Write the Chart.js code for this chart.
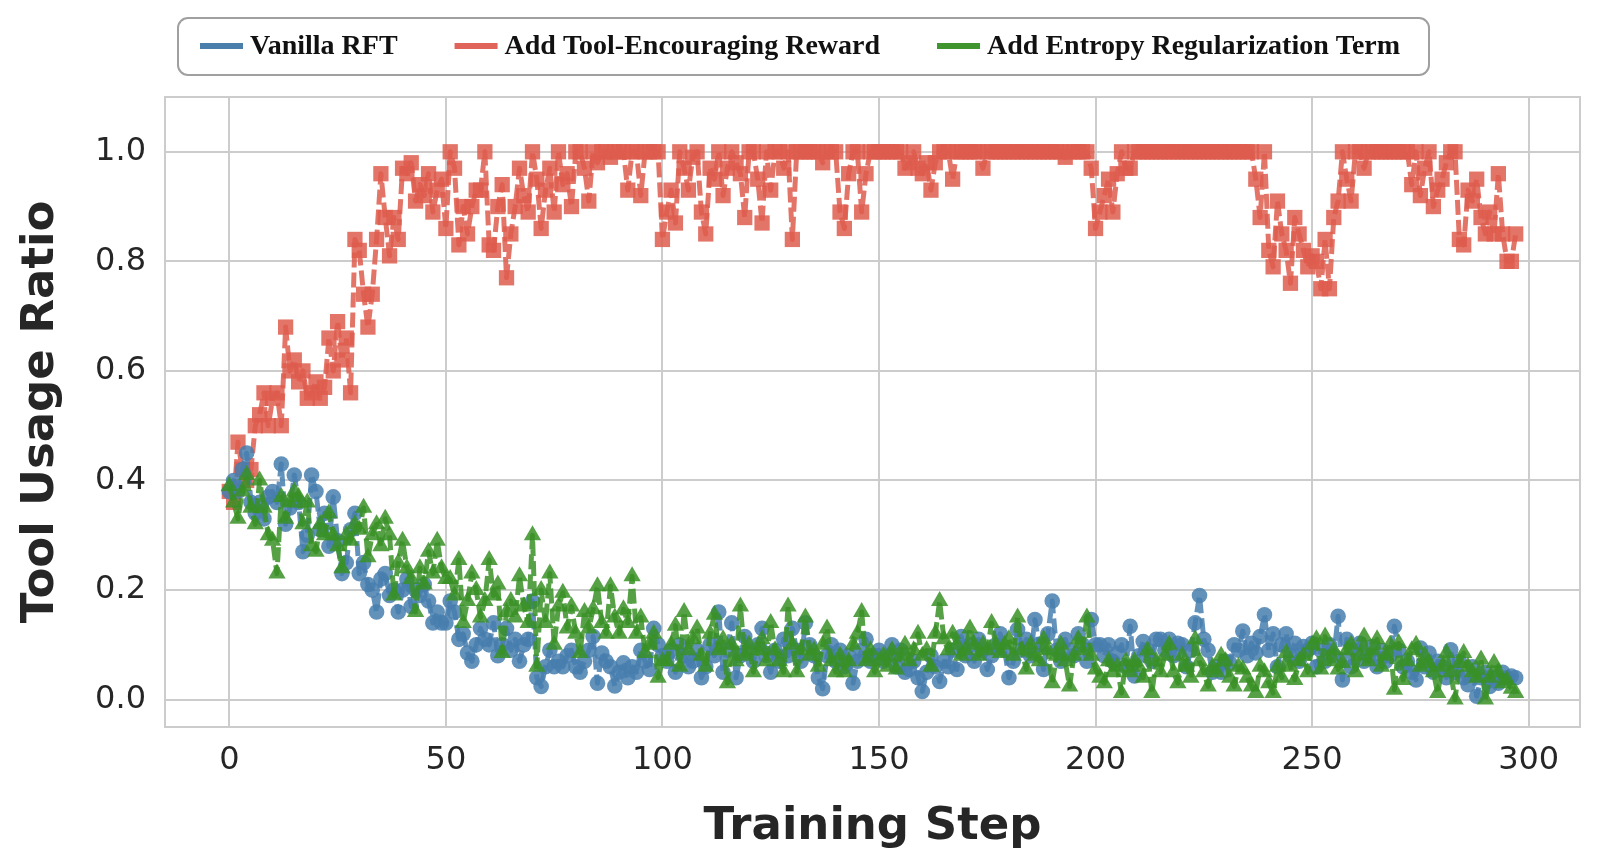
<!DOCTYPE html>
<html>
<head>
<meta charset="utf-8">
<script src="https://cdn.jsdelivr.net/npm/chart.js@4.4.1/dist/chart.umd.min.js"></script>
<style>
  html, body { margin: 0; padding: 0; background: #ffffff; }
  canvas { display: block; }
</style>
</head>
<body>
<canvas id="myChart" width="1600" height="862"></canvas>
<script>
// tool usage ratio per training step
const vanillaRft = [
  0.38, 0.40, 0.38, 0.42, 0.45, 0.36, 0.34, 0.36, 0.33, 0.37,
  0.38, 0.36, 0.43, 0.32, 0.35, 0.41, 0.36, 0.27, 0.30, 0.41,
  0.38, 0.31, 0.34, 0.28, 0.37, 0.29, 0.23, 0.25, 0.31, 0.34,
  0.23, 0.25, 0.21, 0.20, 0.16, 0.22, 0.23, 0.19, 0.20, 0.16,
  0.20, 0.22, 0.17, 0.20, 0.19, 0.21, 0.18, 0.14, 0.16, 0.14,
  0.14, 0.18, 0.16, 0.11, 0.12, 0.085, 0.07, 0.10, 0.13, 0.11,
  0.10, 0.14, 0.08, 0.10, 0.13, 0.09, 0.11, 0.07, 0.10, 0.11,
  0.18, 0.04, 0.024, 0.06, 0.09, 0.06, 0.07, 0.06, 0.08, 0.09,
  0.06, 0.05, 0.07, 0.09, 0.115, 0.03, 0.085, 0.07, 0.06, 0.025,
  0.05, 0.067, 0.04, 0.06, 0.05, 0.09, 0.07, 0.055, 0.13, 0.10,
  0.08, 0.07, 0.09, 0.05, 0.10, 0.08, 0.06, 0.07, 0.09, 0.04,
  0.06, 0.10, 0.08, 0.16, 0.05, 0.09, 0.14, 0.04, 0.08, 0.115,
  0.09, 0.07, 0.10, 0.13, 0.08, 0.05, 0.09, 0.07, 0.11, 0.08,
  0.13, 0.09, 0.07, 0.14, 0.10, 0.08, 0.04, 0.02, 0.08, 0.10,
  0.07, 0.09, 0.06, 0.08, 0.03, 0.07, 0.09, 0.11, 0.07, 0.08,
  0.09, 0.07, 0.08, 0.10, 0.06, 0.09, 0.05, 0.055, 0.07, 0.04,
  0.015, 0.05, 0.08, 0.06, 0.033, 0.07, 0.06, 0.09, 0.055, 0.115,
  0.08, 0.10, 0.07, 0.11, 0.09, 0.055, 0.08, 0.10, 0.12, 0.09,
  0.04, 0.07, 0.128, 0.09, 0.11, 0.08, 0.146, 0.10, 0.055, 0.12,
  0.18, 0.09, 0.07, 0.11, 0.09, 0.08, 0.12, 0.10, 0.07, 0.146,
  0.10, 0.10, 0.08, 0.10, 0.07, 0.085, 0.10, 0.06, 0.134, 0.043,
  0.08, 0.106, 0.09, 0.07, 0.11, 0.11, 0.09, 0.11, 0.08, 0.103,
  0.10, 0.06, 0.09, 0.14, 0.19, 0.11, 0.09, 0.05, 0.06, 0.05,
  0.07, 0.067, 0.10, 0.09, 0.125, 0.08, 0.103, 0.085, 0.115, 0.155,
  0.09, 0.12, 0.06, 0.10, 0.12, 0.08, 0.103, 0.07, 0.097, 0.09,
  0.103, 0.06, 0.09, 0.07, 0.10, 0.08, 0.152, 0.036, 0.11, 0.06,
  0.09, 0.103, 0.07, 0.08, 0.097, 0.06, 0.09, 0.07, 0.08, 0.134,
  0.09, 0.06, 0.07, 0.05, 0.036, 0.094, 0.06, 0.085, 0.05, 0.07,
  0.06, 0.04, 0.091, 0.05, 0.07, 0.04, 0.027, 0.06, 0.006, 0.04,
  0.05, 0.024, 0.04, 0.03, 0.05, 0.04, 0.043, 0.04
];

const toolReward = [
  0.38, 0.36, 0.47, 0.42, 0.40, 0.42, 0.50, 0.52, 0.56, 0.50,
  0.55, 0.56, 0.50, 0.68, 0.60, 0.62, 0.58, 0.60, 0.55, 0.56,
  0.58, 0.55, 0.57, 0.66, 0.60, 0.69, 0.62, 0.66, 0.56, 0.84,
  0.82, 0.74, 0.68, 0.74, 0.84, 0.96, 0.88, 0.81, 0.88, 0.84,
  0.97, 0.96, 0.98, 0.91, 0.94, 0.92, 0.96, 0.89, 0.93, 0.95,
  0.86, 1.0, 0.97, 0.83, 0.90, 0.85, 0.90, 0.93, 0.93, 1.0,
  0.83, 0.82, 0.90, 0.94, 0.77, 0.85, 0.90, 0.97, 0.92, 0.89,
  1.0, 0.95, 0.86, 0.93, 0.97, 0.89, 1.0, 0.94, 0.96, 0.90,
  1.0, 1.0, 0.97, 0.91, 1.0, 0.98, 1.0, 1.0, 0.99, 1.0,
  1.0, 1.0, 0.93, 1.0, 1.0, 0.92, 1.0, 1.0, 1.0, 1.0,
  0.84, 0.89, 0.93, 0.87, 1.0, 0.97, 0.93, 0.99, 1.0, 0.89,
  0.85, 0.97, 0.95, 1.0, 0.92, 0.97, 1.0, 0.98, 0.96, 0.88,
  1.0, 1.0, 0.95, 0.87, 1.0, 0.93, 1.0, 1.0, 0.97, 1.0,
  0.84, 1.0, 1.0, 1.0, 1.0, 1.0, 1.0, 0.98, 1.0, 1.0,
  1.0, 0.89, 0.86, 0.96, 1.0, 1.0, 0.89, 0.96, 1.0, 1.0,
  1.0, 1.0, 1.0, 1.0, 1.0, 1.0, 0.97, 0.98, 1.0, 0.97,
  0.96, 0.98, 0.93, 0.98, 1.0, 1.0, 1.0, 0.95, 1.0, 1.0,
  1.0, 1.0, 1.0, 1.0, 0.97, 1.0, 1.0, 1.0, 1.0, 1.0,
  1.0, 1.0, 1.0, 1.0, 1.0, 1.0, 1.0, 1.0, 1.0, 1.0,
  1.0, 1.0, 1.0, 0.99, 1.0, 1.0, 1.0, 1.0, 1.0, 0.97,
  0.86, 0.89, 0.92, 0.95, 0.89, 0.96, 1.0, 0.97, 0.97, 1.0,
  1.0, 1.0, 1.0, 1.0, 1.0, 1.0, 1.0, 1.0, 1.0, 1.0,
  1.0, 1.0, 1.0, 1.0, 1.0, 1.0, 1.0, 1.0, 1.0, 1.0,
  1.0, 1.0, 1.0, 1.0, 1.0, 1.0, 1.0, 0.95, 0.88, 1.0,
  0.82, 0.79, 0.91, 0.85, 0.82, 0.76, 0.88, 0.85, 0.82, 0.79,
  0.81, 0.80, 0.75, 0.84, 0.75, 0.88, 0.91, 1.0, 0.95, 0.91,
  1.0, 1.0, 0.97, 1.0, 1.0, 1.0, 1.0, 1.0, 1.0, 1.0,
  1.0, 1.0, 1.0, 0.94, 1.0, 0.92, 0.97, 1.0, 0.90, 0.93,
  0.95, 0.98, 1.0, 1.0, 0.84, 0.83, 0.93, 0.91, 0.95, 0.88,
  0.85, 0.89, 0.85, 0.96, 0.85, 0.80, 0.80, 0.85
];

const entropyReg = [
  0.39, 0.36, 0.33, 0.38, 0.41, 0.35, 0.32, 0.40, 0.35, 0.30,
  0.29, 0.23, 0.37, 0.33, 0.36, 0.38, 0.37, 0.32, 0.36, 0.28,
  0.27, 0.32, 0.30, 0.34, 0.30, 0.28, 0.24, 0.30, 0.29, 0.32,
  0.31, 0.35, 0.26, 0.30, 0.32, 0.28, 0.33, 0.30, 0.19, 0.25,
  0.29, 0.24, 0.22, 0.16, 0.24, 0.21, 0.27, 0.23, 0.29, 0.24,
  0.22, 0.22, 0.19, 0.255, 0.14, 0.18, 0.23, 0.20, 0.15, 0.18,
  0.255, 0.19, 0.21, 0.085, 0.16, 0.18, 0.15, 0.225, 0.17, 0.14,
  0.30, 0.06, 0.20, 0.14, 0.23, 0.10, 0.17, 0.195, 0.13, 0.17,
  0.12, 0.085, 0.16, 0.13, 0.165, 0.207, 0.14, 0.12, 0.207, 0.15,
  0.12, 0.165, 0.14, 0.225, 0.12, 0.15, 0.085, 0.10, 0.12, 0.04,
  0.07, 0.07, 0.10, 0.135, 0.06, 0.16, 0.09, 0.11, 0.13, 0.08,
  0.06, 0.12, 0.155, 0.09, 0.11, 0.03, 0.10, 0.07, 0.17, 0.08,
  0.10, 0.05, 0.09, 0.11, 0.07, 0.14, 0.09, 0.07, 0.05, 0.17,
  0.10, 0.05, 0.09, 0.15, 0.08, 0.09, 0.06, 0.10, 0.13, 0.07,
  0.05, 0.08, 0.05, 0.07, 0.10, 0.12, 0.16, 0.07, 0.09, 0.05,
  0.07, 0.08, 0.06, 0.09, 0.055, 0.08, 0.10, 0.07, 0.09, 0.12,
  0.08, 0.09, 0.06, 0.12, 0.18, 0.11, 0.09, 0.12, 0.10, 0.08,
  0.09, 0.13, 0.10, 0.08, 0.10, 0.09, 0.14, 0.10, 0.085, 0.10,
  0.11, 0.08, 0.15, 0.09, 0.055, 0.10, 0.08, 0.07, 0.11, 0.09,
  0.03, 0.08, 0.10, 0.07, 0.024, 0.08, 0.11, 0.09, 0.15, 0.08,
  0.055, 0.04, 0.03, 0.07, 0.05, 0.06, 0.012, 0.07, 0.05, 0.07,
  0.06, 0.04, 0.09, 0.012, 0.07, 0.05, 0.08, 0.10, 0.05, 0.03,
  0.08, 0.06, 0.04, 0.11, 0.07, 0.05, 0.024, 0.06, 0.05, 0.08,
  0.07, 0.04, 0.024, 0.06, 0.055, 0.04, 0.024, 0.012, 0.06, 0.05,
  0.03, 0.012, 0.06, 0.04, 0.085, 0.06, 0.036, 0.07, 0.08, 0.05,
  0.10, 0.11, 0.055, 0.115, 0.07, 0.09, 0.055, 0.067, 0.09, 0.10,
  0.05, 0.08, 0.115, 0.07, 0.09, 0.11, 0.06, 0.08, 0.10, 0.018,
  0.103, 0.036, 0.07, 0.09, 0.10, 0.06, 0.08, 0.067, 0.05, 0.012,
  0.06, 0.085, 0.05, 0.0, 0.067, 0.085, 0.06, 0.05, 0.04, 0.073,
  0.0, 0.04, 0.067, 0.05, 0.03, 0.036, 0.02, 0.012
];

const steps = vanillaRft.map((_, i) => i);
const xTicks = [0, 50, 100, 150, 200, 250, 300];
const yTicks = [0.0, 0.2, 0.4, 0.6, 0.8, 1.0];

const seriesNames = ['Vanilla RFT', 'Add Tool-Encouraging Reward', 'Add Entropy Regularization Term'];

const TEXT = '#262626';
const GRID = '#cccccc';

function pts(values) {
  return values.map((v, i) => ({ x: steps[i], y: v }));
}

// white background + light frame round the plot, like seaborn whitegrid
const framePlugin = {
  id: 'frame',
  beforeDraw(chart) {
    const ctx = chart.ctx;
    ctx.save();
    ctx.fillStyle = '#ffffff';
    ctx.fillRect(0, 0, chart.width, chart.height);
    ctx.restore();
  },
  beforeDatasetsDraw(chart) {
    const { ctx, chartArea: a } = chart;
    ctx.save();
    ctx.strokeStyle = GRID;
    ctx.lineWidth = 2;
    ctx.strokeRect(a.left, a.top, a.right - a.left, a.bottom - a.top);
    ctx.restore();
  }
};

// boxed legend on top, drawn by hand so the spacing matches
const legendBox = {
  id: 'legendBox',
  afterDraw(chart) {
    const ctx = chart.ctx;
    ctx.save();
    const bx = 178, by = 18, bw = 1251, bh = 57, r = 10;
    ctx.beginPath();
    ctx.roundRect(bx, by, bw, bh, r);
    ctx.fillStyle = '#ffffff';
    ctx.fill();
    ctx.lineWidth = 2;
    ctx.strokeStyle = '#a0a0a0';
    ctx.stroke();

    ctx.font = 'bold 28px "Liberation Serif", "Times New Roman", serif';
    ctx.textBaseline = 'middle';
    let x = 200;
    const cy = 46;
    chart.data.datasets.forEach(ds => {
      ctx.fillStyle = ds.legendColor;
      ctx.fillRect(x, cy - 3, 43, 6);
      ctx.fillStyle = '#111111';
      ctx.fillText(ds.label, x + 50, cy + 1);
      x += 50 + ctx.measureText(ds.label).width + 57;
    });
    ctx.restore();
  }
};

const myChart = new Chart('myChart', {
  type: 'line',
  data: {
    datasets: [
      {
        label: seriesNames[0],
        data: pts(vanillaRft),
        borderColor: 'rgba(70, 126, 174, 0.85)',
        backgroundColor: 'rgba(70, 126, 174, 0.85)',
        legendColor: '#4a7eab',
        pointStyle: 'circle',
        pointRadius: 7.8,
        order: 1
      },
      {
        label: seriesNames[1],
        data: pts(toolReward),
        borderColor: 'rgba(222, 92, 78, 0.85)',
        backgroundColor: 'rgba(222, 92, 78, 0.85)',
        legendColor: '#e0645a',
        pointStyle: 'rect',
        pointRadius: 10.8,
        order: 2
      },
      {
        label: seriesNames[2],
        data: pts(entropyReg),
        borderColor: 'rgba(56, 145, 38, 0.85)',
        backgroundColor: 'rgba(56, 145, 38, 0.85)',
        legendColor: '#3f962f',
        pointStyle: 'triangle',
        pointRadius: 10,
        order: 0
      }
    ]
  },
  options: {
    responsive: false,
    animation: false,
    devicePixelRatio: 1,
    layout: { padding: { top: 97, right: 20, left: 0, bottom: 0 } },
    elements: {
      line: {
        borderWidth: 5,
        borderDash: [15, 5],
        borderJoinStyle: 'round',
        borderCapStyle: 'butt',
        tension: 0,
        fill: false
      },
      point: { borderWidth: 0, hoverRadius: 8 }
    },
    plugins: {
      legend: { display: false },
      tooltip: { enabled: false }
    },
    scales: {
      x: {
        type: 'linear',
        min: -14.85,
        max: 311.85,
        afterBuildTicks: s => { s.ticks = xTicks.map(v => ({ value: v })); },
        afterFit: s => { s.height = 135; },
        grid: { color: GRID, lineWidth: 2, drawTicks: false },
        border: { display: false },
        ticks: {
          color: TEXT,
          padding: 14,
          maxRotation: 0,
          autoSkip: false,
          font: { family: '"DejaVu Sans"', size: 32 },
          callback: v => String(v)
        },
        title: {
          display: true,
          text: 'Training Step',
          color: TEXT,
          font: { family: '"DejaVu Sans"', size: 45, weight: 'bold' },
          padding: { top: 0, bottom: 8 }
        }
      },
      y: {
        type: 'linear',
        min: -0.05,
        max: 1.1,
        afterBuildTicks: s => { s.ticks = yTicks.map(v => ({ value: v })); },
        afterFit: s => { s.width = 165; },
        grid: { color: GRID, lineWidth: 2, drawTicks: false },
        border: { display: false },
        ticks: {
          color: TEXT,
          padding: 19,
          font: { family: '"DejaVu Sans"', size: 32 },
          callback: v => v.toFixed(1)
        },
        title: {
          display: true,
          text: 'Tool Usage Ratio',
          color: TEXT,
          font: { family: '"DejaVu Sans"', size: 45, weight: 'bold' },
          padding: { top: 14, bottom: 0 }
        }
      }
    }
  },
  plugins: [framePlugin, legendBox]
});
</script>
</body>
</html>
